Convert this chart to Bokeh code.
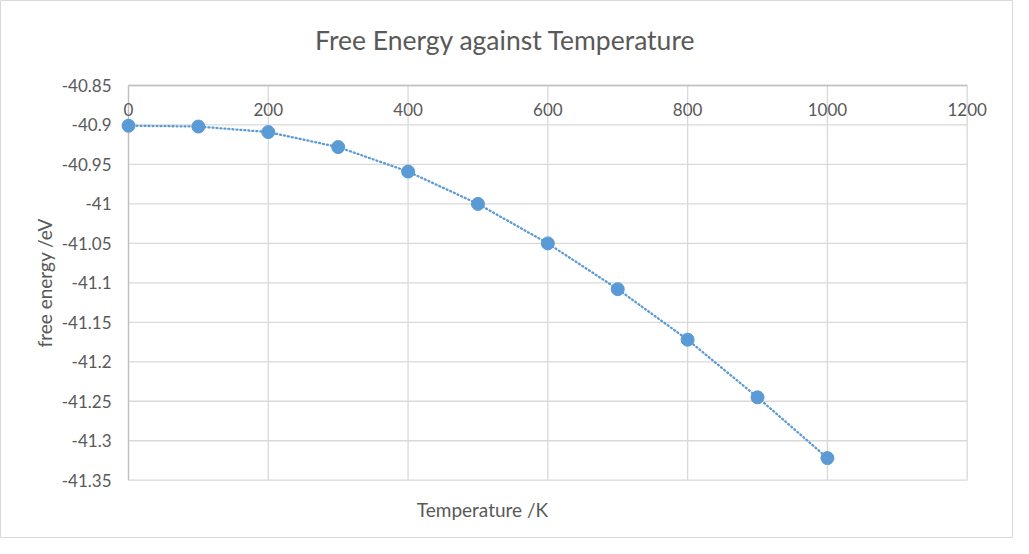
import math
from bokeh.plotting import figure
from bokeh.models import ColumnDataSource, Range1d
from bokeh.core.properties import value
from bokeh.embed import file_html
from bokeh.resources import INLINE

# ---- data ----
temps = [0, 100, 200, 300, 400, 500, 600, 700, 800, 900, 1000]
energy = [-40.901, -40.902, -40.909, -40.928, -40.959, -41.000,
          -41.050, -41.108, -41.172, -41.245, -41.322]
x_ticks = [0, 200, 400, 600, 800, 1000, 1200]
x_tick_labels = ["0", "200", "400", "600", "800", "1000", "1200"]
y_ticks = [-40.85, -40.9, -40.95, -41.0, -41.05, -41.1, -41.15, -41.2, -41.25, -41.3, -41.35]
y_tick_labels = ["-40.85", "-40.9", "-40.95", "-41", "-41.05", "-41.1", "-41.15",
                 "-41.2", "-41.25", "-41.3", "-41.35"]
title_text = "Free Energy against Temperature"
x_title = "Temperature /K"
y_title = "free energy /eV"

x_min, x_max = 0, 1200
y_min, y_max = -41.35, -40.85

# ---- layout (pixels) ----
W, H = 1013, 538
PL, PR, PT, PB = 128.0, 966.7, 85.0, 479.7   # plot-area edges on the canvas

FONT = "Lato"
TXT = "#595959"
BLUE = "#5B9BD5"
GRID = "#D9D9D9"
AXIS = "#BFBFBF"

kx = (PR - PL) / (x_max - x_min)
ky = (PB - PT) / (y_max - y_min)
def xd(px):
    return x_min + (px - PL) / kx
def yd(py):
    return y_max - (py - PT) / ky

p = figure(width=W, height=H,
           x_range=Range1d(xd(0), xd(W)), y_range=Range1d(yd(H), yd(0)),
           output_backend="svg", toolbar_location=None, min_border=0)
p.title.visible = False
p.axis.visible = False
p.grid.visible = False
p.outline_line_color = GRID
p.outline_line_width = 1
p.background_fill_color = "white"
p.border_fill_color = "white"

# gridlines from the tick lists
p.segment(x0=x_ticks, x1=x_ticks, y0=[y_min] * len(x_ticks), y1=[y_max] * len(x_ticks),
          line_color=GRID, line_width=1.3)
p.segment(x0=[x_min] * len(y_ticks), x1=[x_max] * len(y_ticks), y0=y_ticks, y1=y_ticks,
          line_color=GRID, line_width=1.3)
# axis lines: vertical axis at x_min, horizontal axis crossing at the top
p.segment(x0=[x_min, x_min], x1=[x_min, x_max], y0=[y_min, y_max], y1=[y_max, y_max],
          line_color=AXIS, line_width=1.3)

# tick labels
xs = ColumnDataSource(dict(x=x_ticks, y=[y_max] * len(x_ticks), t=x_tick_labels))
p.text(x="x", y="y", text="t", source=xs, text_align="center", text_baseline="middle",
       y_offset=24, text_font=value(FONT), text_font_size="17px", text_color=TXT)
ys = ColumnDataSource(dict(x=[x_min] * len(y_ticks), y=y_ticks, t=y_tick_labels))
p.text(x="x", y="y", text="t", source=ys, text_align="right", text_baseline="middle",
       x_offset=-17, text_font=value(FONT), text_font_size="17px", text_color=TXT)

# series
p.line(temps, energy, line_color=BLUE, line_width=2.3, line_dash="1 3", line_cap="round")
p.scatter(temps, energy, size=13, fill_color=BLUE, line_color=BLUE)

# titles
p.text(x=[xd(505)], y=[yd(39)], text=[title_text], text_align="center", text_baseline="middle",
       text_font=value(FONT), text_font_size="26.5px", text_color=TXT)
p.text(x=[xd(482)], y=[yd(509)], text=[x_title], text_align="center", text_baseline="middle",
       text_font=value(FONT), text_font_size="19px", text_color=TXT)
p.text(x=[xd(44)], y=[(y_min + y_max) / 2], text=[y_title], angle=math.pi / 2,
       text_align="center", text_baseline="middle",
       text_font=value(FONT), text_font_size="19px", text_color=TXT)

open("out.html", "w").write(file_html(p, INLINE))
